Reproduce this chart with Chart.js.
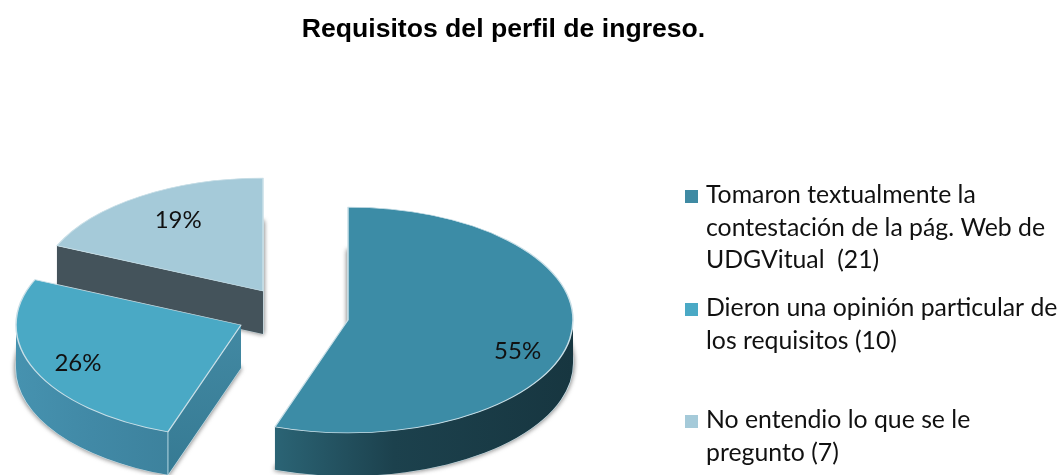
<!DOCTYPE html>
<html>
<head>
<meta charset="utf-8">
<style>html,body{margin:0;padding:0;background:#fff}canvas{display:block}</style>
<script src="https://cdn.jsdelivr.net/npm/chart.js@4/dist/chart.umd.min.js"></script>
</head>
<body>
<canvas id="c" width="1059" height="475"></canvas>
<script>
const titleText = 'Requisitos del perfil de ingreso.';
const legendLines = [
  ['Tomaron textualmente la', 'contestación de la pág. Web de', 'UDGVitual  (21)'],
  ['Dieron una opinión particular de', 'los requisitos (10)'],
  ['No entendio lo que se le', 'pregunto (7)']
];
const categories = legendLines.map(l => l.join(' '));
const counts = [21, 10, 7];
const percentages = [55, 26, 19];

const topColors = ['#3c8ca6', '#4aa9c5', '#a5cad9'];
const swatchColors = ['#3f8aa3', '#4aa9c5', '#a5cad9'];
const outerWallStops = [['#2b6475', '#1c414d', '#173640'], ['#4692af', '#4189a6', '#3d829d'], ['#44545c', '#44545c', '#44545c']];
const cutWallColors = [['#2b6475', '#2b6475'], ['#4289a3', '#367a93'], ['#44535b', '#44535b']];

// 3-D layout
const squash = 0.502, depth = 43, radiusPx = 225;
const pieX = 284, pieY = 315;
const explodeX = [64, -43, -21];
const explodeY = [5, 10, -24];
const labelRadius = [172, 178, 155];
const labelDy = [17, 2, -6];
const legendX = 685, legendTextX = 706, legendTop = [203, 316, 428], legendStep = 32.5;
const textFont = 'Lato';

const pie3d = {
  id: 'pie3d',
  beforeDatasetsDraw(chart) {
    const ctx = chart.ctx, arcs = chart.getDatasetMeta(0).data;
    [2, 1, 0].forEach(i => {
      const arc = arcs[i];
      const R = arc.outerRadius, a = arc.startAngle, b = arc.endAngle;
      const px = pieX + explodeX[i], py = pieY + explodeY[i];
      const face = (yOff) => {
        ctx.save();
        ctx.translate(px, py + yOff);
        ctx.scale(1, squash);
        ctx.translate(-arc.x, -arc.y);
        arc.draw(ctx);
        ctx.restore();
      };
      // soft shadow of the underside
      ctx.save();
      ctx.shadowColor = 'rgba(0,0,0,0.55)';
      ctx.shadowBlur = 5;
      face(depth);
      ctx.restore();
      // radial cut walls
      const cut = (t) => {
        const ex = px + R * Math.cos(t), ey = py + squash * R * Math.sin(t);
        const g = ctx.createLinearGradient(0, py, 0, ey + depth);
        g.addColorStop(0, cutWallColors[i][0]);
        g.addColorStop(1, cutWallColors[i][1]);
        ctx.fillStyle = g;
        ctx.beginPath();
        ctx.moveTo(px, py); ctx.lineTo(ex, ey); ctx.lineTo(ex, ey + depth); ctx.lineTo(px, py + depth);
        ctx.closePath(); ctx.fill();
      };
      if (Math.cos(a) < -1e-6) cut(a);
      if (Math.cos(b) > 1e-6) cut(b);
      // outer wall (front half only)
      const from = Math.max(a, 0), to = Math.min(b, Math.PI);
      if (to > from) {
        const x0 = px + R * Math.cos(to), x1 = px + R * Math.cos(from);
        const g = ctx.createLinearGradient(x1, 0, x0, 0);
        const st = outerWallStops[i];
        if (i === 0) { g.addColorStop(0, st[2]); g.addColorStop(0.6, st[1]); g.addColorStop(1, st[0]); }
        else { g.addColorStop(0, st[2]); g.addColorStop(0.5, st[1]); g.addColorStop(1, st[0]); }
        ctx.fillStyle = g;
        ctx.beginPath();
        ctx.ellipse(px, py, R, squash * R, 0, from, to);
        ctx.ellipse(px, py + depth, R, squash * R, 0, to, from, true);
        ctx.closePath(); ctx.fill();
      }
      // light vertical corner on the middle slice
      if (i === 1) {
        const cx = px + R * Math.cos(a), cy = py + squash * R * Math.sin(a);
        ctx.strokeStyle = 'rgba(205,230,238,0.85)';
        ctx.lineWidth = 1;
        ctx.beginPath(); ctx.moveTo(cx, cy); ctx.lineTo(cx, cy + depth); ctx.stroke();
      }
      face(0);
    });
    return false;
  },
  afterDraw(chart) {
    const ctx = chart.ctx, arcs = chart.getDatasetMeta(0).data;
    ctx.save();
    ctx.fillStyle = '#111';
    ctx.font = '24px ' + textFont;
    ctx.textAlign = 'center';
    ctx.textBaseline = 'middle';
    arcs.forEach((arc, i) => {
      const m = (arc.startAngle + arc.endAngle) / 2;
      const x = pieX + explodeX[i] + labelRadius[i] * Math.cos(m);
      const y = pieY + explodeY[i] + squash * labelRadius[i] * Math.sin(m) + labelDy[i];
      ctx.fillText(percentages[i] + '%', x, y);
    });
    ctx.textAlign = 'left';
    ctx.textBaseline = 'alphabetic';
    ctx.font = '24.8px ' + textFont;
    legendLines.forEach((lines, i) => {
      ctx.fillStyle = swatchColors[i];
      ctx.fillRect(legendX, legendTop[i] - 13, 13, 13);
      ctx.fillStyle = '#111';
      lines.forEach((t, j) => ctx.fillText(t, legendTextX, legendTop[i] + j * legendStep));
    });
    ctx.restore();
  }
};

new Chart(document.getElementById('c'), {
  type: 'pie',
  data: {
    labels: categories,
    datasets: [{
      data: counts,
      backgroundColor: topColors,
      borderColor: '#c9dfe7',
      borderWidth: 1.5,
      radius: radiusPx
    }]
  },
  options: {
    responsive: false,
    animation: false,
    layout: { padding: { right: 52 } },
    plugins: {
      legend: { display: false },
      tooltip: { enabled: false },
      title: {
        display: true,
        text: titleText,
        color: '#000',
        font: { family: 'Liberation Sans', size: 26.6, weight: 'bold' },
        padding: { top: 14, bottom: 10 }
      }
    }
  },
  plugins: [pie3d]
});
</script>
</body>
</html>
